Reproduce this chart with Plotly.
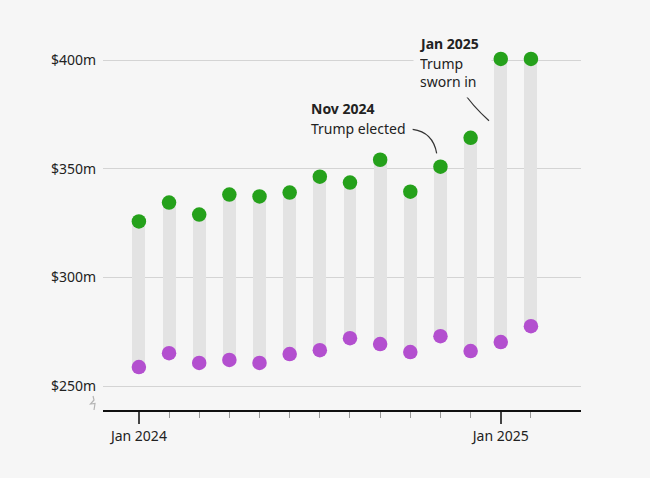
import plotly.graph_objects as go

# ---- data ----
months = ["Jan 2024", "Feb 2024", "Mar 2024", "Apr 2024", "May 2024", "Jun 2024",
          "Jul 2024", "Aug 2024", "Sep 2024", "Oct 2024", "Nov 2024", "Dec 2024",
          "Jan 2025", "Feb 2025"]
high_vals = [325.7, 334.4, 328.9, 338.1, 337.2, 339.0, 346.3, 343.6, 354.1, 339.4,
             350.9, 364.2, 400.5, 400.5]
low_vals = [258.7, 265.1, 260.6, 262.0, 260.6, 264.7, 266.5, 272.0, 269.3, 265.6,
            272.9, 266.1, 270.2, 277.5]
ytick_vals = [250, 300, 350, 400]
ytick_text = ["$250m", "$300m", "$350m", "$400m"]
xtick_labels = ["Jan 2024", "Jan 2025"]

idx = list(range(len(months)))
major_idx = [months.index(m) for m in xtick_labels]
minor_idx = [i for i in idx if i not in major_idx]

BG = "#f6f6f6"
FONT = "Noto Sans"
TXT = "#222222"

# plot area geometry (pixels) used only for decorative squiggle
L, R, T, B = 103, 581, 40, 410
W, H = 650, 478

fig = go.Figure()
fig.add_trace(go.Bar(
    x=idx, y=[h - l for h, l in zip(high_vals, low_vals)], base=low_vals,
    width=0.43, marker=dict(color="#e3e3e3", line=dict(width=0)),
    hoverinfo="skip", showlegend=False))
fig.add_trace(go.Scatter(
    x=idx, y=low_vals, mode="markers",
    marker=dict(size=14.5, color="#b34fcf", line=dict(width=0)), showlegend=False))
fig.add_trace(go.Scatter(
    x=idx, y=high_vals, mode="markers",
    marker=dict(size=14.5, color="#25a11b", line=dict(width=0)), showlegend=False))

fig.update_layout(
    width=W, height=H,
    margin=dict(l=L, r=W - R, t=T, b=H - B),
    paper_bgcolor=BG, plot_bgcolor=BG,
    font=dict(family=FONT, size=14, color=TXT),
    bargap=0,
    xaxis=dict(
        range=[-1.19, 14.66], tickmode="array", tickvals=major_idx,
        ticktext=xtick_labels, ticks="outside", ticklen=12, tickwidth=1.5,
        tickcolor="#444444", showline=True, linecolor="#111111", linewidth=1.5,
        showgrid=False, zeroline=False, tickfont=dict(size=14, color=TXT),
        minor=dict(tickmode="array", tickvals=minor_idx, ticks="outside",
                   ticklen=6, tickwidth=1, tickcolor="#999999", showgrid=False),
    ),
    yaxis=dict(
        range=[238.96, 409.2], tickmode="array", tickvals=ytick_vals,
        ticktext=ytick_text, showgrid=True, gridcolor="#d4d4d4", gridwidth=1,
        zeroline=False, showline=False, ticks="", ticklabelstandoff=6,
        tickfont=dict(size=14, color=TXT),
    ),
)

# annotations
fig.add_annotation(x=5.64, y=377.9, xref="x", yref="y", text="<b>Nov 2024</b>",
                   showarrow=False, xanchor="left", yanchor="middle",
                   font=dict(size=14, color=TXT))
fig.add_annotation(x=5.64, y=368.7, xref="x", yref="y", text="Trump elected",
                   showarrow=False, xanchor="left", yanchor="middle",
                   font=dict(size=14, color=TXT))
fig.add_annotation(x=9.09, y=394.3, xref="x", yref="y", text="Trump<br>sworn in",
                   showarrow=False, xanchor="left", yanchor="middle", align="left",
                   bgcolor=BG, borderpad=6, width=65,
                   font=dict(size=14, color=TXT))
fig.add_annotation(x=9.22, y=407.8, xref="x", yref="y", text="<b>Jan 2025</b>",
                   showarrow=False, xanchor="left", yanchor="middle",
                   font=dict(size=14, color=TXT))

# connector curves
fig.add_shape(type="path", xref="x", yref="y",
              path="M 9.078 368.11 Q 9.751 366.87 9.874 357.07",
              line=dict(color="#333333", width=1.2))
fig.add_shape(type="path", xref="x", yref="y",
              path="M 10.736 385.87 Q 11.035 379.29 11.609 372.07",
              line=dict(color="#333333", width=1.2))

# axis-break squiggle
def px(xp):
    return (xp - L) / (R - L)

def py(yp):
    return (B - yp) / (B - T)

pts = [(93, 396), (94, 400), (90.5, 404), (95, 403.5), (94, 410)]
path = "M " + " L ".join(f"{px(a):.4f} {py(b):.4f}" for a, b in pts)
fig.add_shape(type="path", xref="paper", yref="paper", path=path,
              line=dict(color="#b5b5b5", width=1.2))

fig.write_html(
    "out.html",
    config={"displayModeBar": False},
    post_script="document.body.style.margin='0px';"
                "document.body.style.background='%s';" % BG,
)
